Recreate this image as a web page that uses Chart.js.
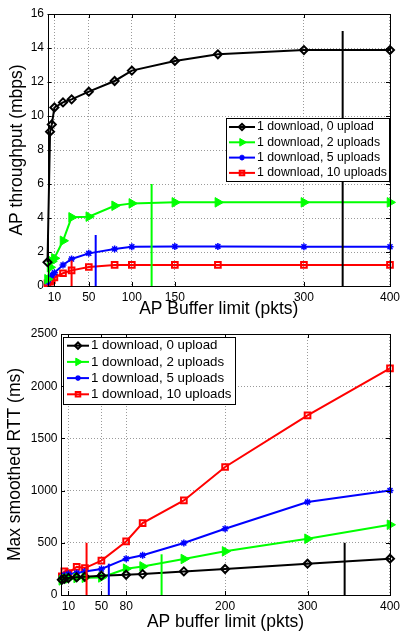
<!DOCTYPE html>
<html>
<head>
<meta charset="utf-8">
<script src="https://cdn.jsdelivr.net/npm/chart.js@4/dist/chart.umd.min.js"></script>
<style>
  body { margin: 0; background: #fff; }
  #wrap { position: relative; width: 404px; height: 631px; }
  canvas { position: absolute; left: 0; }
</style>
</head>
<body>
<div id="wrap">
  <canvas id="tput" width="404" height="318" style="top:0"></canvas>
  <canvas id="rtt" width="404" height="313" style="top:318px"></canvas>
</div>
<script>
// series names (legend)
const seriesNames = ['1 download, 0 upload', '1 download, 2 uploads', '1 download, 5 uploads', '1 download, 10 uploads'];

// top: AP throughput (mbps) vs buffer limit
const tputX = [2, 5, 7, 10, 20, 30, 50, 80, 100, 150, 200, 300, 400];
const tput0 = [1.4, 9.08, 9.5, 10.5, 10.8, 10.98, 11.43, 12.06, 12.67, 13.24, 13.63, 13.88, 13.88];
const tput2 = [0.4, 1.1, 1.45, 1.63, 2.66, 4.04, 4.08, 4.72, 4.86, 4.92, 4.92, 4.92, 4.92];
const tput5 = [0.25, 0.5, 0.65, 0.78, 1.24, 1.59, 1.92, 2.18, 2.31, 2.33, 2.33, 2.31, 2.31];
const tput10 = [0.16, 0.25, 0.35, 0.5, 0.75, 0.92, 1.12, 1.24, 1.24, 1.24, 1.24, 1.24, 1.24];
const tputMarkX = [345, 123, 58, 30];
const tputMarkTop = [15, 6, 3, 1.5];
const tputTicksX = [10, 50, 100, 150, 300, 400];

// bottom: max smoothed RTT (ms) vs buffer limit
const rttX = [2, 5, 10, 20, 30, 50, 80, 100, 150, 200, 300, 400];
const rtt0 = [146, 156, 163, 170, 175, 185, 194, 200, 226, 249, 300, 348];
const rtt2 = [140, 155, 158, 163, 165, 168, 252, 274, 345, 418, 539, 673];
const rtt5 = [170, 190, 200, 210, 226, 249, 348, 380, 498, 635, 890, 1002];
const rtt10 = [180, 226, 210, 270, 258, 330, 513, 689, 906, 1226, 1720, 2171];
const rttMarkX = [345, 123, 59, 32];
const rttMarkTop = [500, 390, 300, 500];
const rttTicksX = [10, 50, 80, 200, 300, 400];

const colors = ['#000000', '#00ff00', '#0000ff', '#ff0000'];
const marks = [
  { style: 'rectRot', r: 4, rot: 0, fill: 'rgba(0,0,0,0)', bw: 2 },
  { style: 'triangle', r: 5.5, rot: 90, fill: '#00ff00', bw: 1 },
  { style: 'star', r: 3.5, rot: 0, fill: 'rgba(0,0,0,0)', bw: 1.5 },
  { style: 'rect', r: 4, rot: 0, fill: 'rgba(0,0,0,0)', bw: 2 }
];
const FONT = '"Liberation Sans", Arial, sans-serif';
Chart.defaults.font.family = FONT;
Chart.defaults.color = '#000';

function series(xs, ys, i) {
  return {
    label: seriesNames[i],
    data: xs.map((x, k) => ({ x: x, y: ys[k] })),
    borderColor: colors[i],
    backgroundColor: marks[i].fill,
    borderWidth: 2,
    pointStyle: marks[i].style,
    pointRadius: marks[i].r,
    pointRotation: marks[i].rot,
    pointBorderWidth: marks[i].bw,
    pointBackgroundColor: marks[i].fill,
    pointBorderColor: colors[i],
    clip: 6
  };
}
function markLine(x, top, i) {
  return { label: '', isMark: true, data: [{ x: x, y: 0 }, { x: x, y: top }], borderColor: colors[i], borderWidth: 2, pointRadius: 0 };
}

// axes box + inward ticks, like the matlab figure
const frame = {
  id: 'frame',
  afterDatasetsDraw(chart) {
    const ctx = chart.ctx, a = chart.chartArea, sx = chart.scales.x, sy = chart.scales.y;
    ctx.save();
    ctx.strokeStyle = '#000';
    ctx.lineWidth = 1;
    ctx.beginPath();
    sx.ticks.forEach(t => {
      const p = Math.round(sx.getPixelForValue(t.value)) + 0.5;
      ctx.moveTo(p, a.bottom); ctx.lineTo(p, a.bottom - 4);
      ctx.moveTo(p, a.top); ctx.lineTo(p, a.top + 4);
    });
    sy.ticks.forEach(t => {
      const p = Math.round(sy.getPixelForValue(t.value)) + 0.5;
      ctx.moveTo(a.left, p); ctx.lineTo(a.left + 4, p);
      ctx.moveTo(a.right, p); ctx.lineTo(a.right - 4, p);
    });
    ctx.stroke();
    ctx.strokeRect(Math.round(a.left) + 0.5, Math.round(a.top) + 0.5, Math.round(a.right - a.left), Math.round(a.bottom - a.top));
    ctx.restore();
  }
};

// legend box drawn inside the axes
const boxLegend = {
  id: 'boxLegend',
  afterDraw(chart, args, o) {
    const ctx = chart.ctx;
    ctx.save();
    ctx.fillStyle = '#fff';
    ctx.fillRect(o.x, o.y, o.w, o.h);
    ctx.strokeStyle = '#000';
    ctx.lineWidth = 1;
    ctx.strokeRect(o.x + 0.5, o.y + 0.5, o.w, o.h);
    ctx.font = o.size + 'px ' + FONT;
    ctx.textBaseline = 'middle';
    chart.data.datasets.filter(d => !d.isMark).forEach((d, i) => {
      const y = o.row0 + i * o.step;
      ctx.strokeStyle = d.borderColor;
      ctx.lineWidth = 2;
      ctx.beginPath(); ctx.moveTo(o.x0, y); ctx.lineTo(o.x1, y); ctx.stroke();
      ctx.fillStyle = d.pointBackgroundColor;
      ctx.lineWidth = d.pointBorderWidth;
      Chart.helpers.drawPoint(ctx, { pointStyle: d.pointStyle, rotation: d.pointRotation, radius: d.pointRadius * 0.8, borderWidth: d.pointBorderWidth }, (o.x0 + o.x1) / 2, y);
      ctx.fillStyle = '#000';
      ctx.fillText(d.label, o.tx, y);
    });
    ctx.restore();
  }
};

function makeOptions(cfg) {
  return {
    responsive: false,
    animation: false,
    layout: { autoPadding: false, padding: cfg.pad },
    plugins: { legend: { display: false }, tooltip: { enabled: false }, boxLegend: cfg.legend },
    elements: { line: { tension: 0 } },
    scales: {
      x: {
        type: 'linear', min: cfg.xmin, max: 400,
        afterBuildTicks: s => { s.ticks = cfg.xticks.map(v => ({ value: v })); },
        afterFit: s => { s.height = cfg.xh; },
        grid: { color: '#9a9a9a', drawTicks: false },
        border: { display: false, dash: [1, 2] },
        ticks: { autoSkip: false, maxRotation: 0, padding: 4, font: { size: 12 }, callback: v => String(v) },
        title: { display: true, text: cfg.xtitle, font: { size: 17.5, lineHeight: 1 }, padding: 0 }
      },
      y: {
        min: 0, max: cfg.ymax,
        afterFit: s => { s.width = cfg.yw; },
        grid: { color: '#9a9a9a', drawTicks: false },
        border: { display: false, dash: [1, 2] },
        ticks: { stepSize: cfg.ystep, padding: 3.5, font: { size: 12 }, callback: v => String(v) },
        title: { display: true, text: cfg.ytitle, font: { size: 17.5, lineHeight: 1 }, padding: { top: cfg.ytpad, bottom: 0 } }
      }
    }
  };
}

new Chart(document.getElementById('tput'), {
  type: 'line',
  data: {
    datasets: tputMarkX.map((x, i) => markLine(x, tputMarkTop[i], i)).concat([
      series(tputX, tput0, 0), series(tputX, tput2, 1), series(tputX, tput5, 2), series(tputX, tput10, 3)
    ])
  },
  options: makeOptions({
    pad: { top: 14, right: 11, bottom: 0, left: 0 },
    xmin: 2, xticks: tputTicksX, xh: 32, yw: 47.5, ymax: 16, ystep: 2, ytpad: 8,
    xtitle: 'AP Buffer limit (pkts)', ytitle: 'AP throughput (mbps)',
    legend: { x: 226, y: 118, w: 163, h: 63, row0: 127, step: 15.3, x0: 229, x1: 255, tx: 257, size: 12.3 }
  }),
  plugins: [frame, boxLegend]
});

new Chart(document.getElementById('rtt'), {
  type: 'line',
  data: {
    datasets: rttMarkX.map((x, i) => markLine(x, rttMarkTop[i], i)).concat([
      series(rttX, rtt0, 0), series(rttX, rtt2, 1), series(rttX, rtt5, 2), series(rttX, rtt10, 3)
    ])
  },
  options: makeOptions({
    pad: { top: 16, right: 11.5, bottom: 0, left: 0 },
    xmin: 1, xticks: rttTicksX, xh: 36, yw: 61, ymax: 2500, ystep: 500, ytpad: 6,
    xtitle: 'AP buffer limit (pkts)', ytitle: 'Max smoothed RTT (ms)',
    legend: { x: 63, y: 19, w: 172, h: 67, row0: 27.7, step: 16.2, x0: 67, x1: 89, tx: 91, size: 13.3 }
  }),
  plugins: [frame, boxLegend]
});
</script>
</body>
</html>
